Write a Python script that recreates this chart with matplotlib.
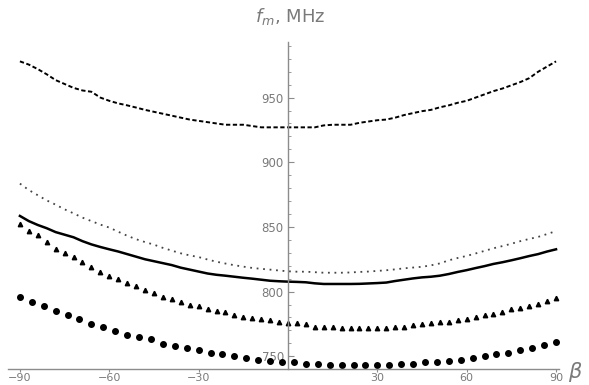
import numpy as np
import matplotlib.pyplot as plt
from matplotlib.ticker import MultipleLocator

# beam angle, degrees (common grid for all curves)
beta = np.arange(-90, 91, 3)
# coarser grid for the circle markers
beta_c = np.arange(-90, 91, 4)

f_dashed = [978, 975.5, 972, 968, 963.5, 960.5, 957.5, 955.5, 954.5, 950,
            947.5, 945.5, 944, 942.3, 940.5, 939, 937.5, 936, 934.5, 933,
            932, 931, 930, 929, 929, 929, 928, 927, 927, 927,
            927, 927, 927, 927, 928.5, 929, 929, 929, 930.5, 931.5,
            932.5, 933, 934.5, 936.5, 938, 939.5, 940.5, 942.5, 944, 946,
            947.5, 950, 952.5, 955, 957, 959.5, 962, 965, 970, 974, 978]

f_dotted = [883.5, 878.5, 874.5, 870.5, 867.2, 863.6, 860.5, 857.2, 854.5, 851.8,
            849.5, 846.3, 843.2, 840.5, 838.3, 836.3, 833.8, 831.7, 829.6, 828,
            826.7, 824.8, 823.1, 821.7, 820.4, 819.3, 818.3, 817.6, 817, 816.3,
            815.7, 815.4, 815.4, 815, 814.6, 814.6, 814.6, 814.8, 815.2, 815.5,
            816, 816.5, 817.2, 818, 818.6, 819.2, 820.3, 821.8, 824.2, 826,
            827.6, 829.5, 831.5, 833.5, 835.2, 837, 839, 840.7, 842.3, 844.5, 846.8]

f_solid = [858.5, 854.5, 851.5, 849, 846, 844, 842, 839, 836.5, 834.5,
           832.7, 831, 829, 827, 825, 823.5, 822, 820.5, 818.5, 817,
           815.5, 814, 813, 812.3, 811.5, 810.7, 810, 809.2, 808.4, 808,
           807.7, 807.5, 807.2, 806.4, 805.9, 805.9, 805.9, 805.9, 806, 806.3,
           806.6, 807, 808.2, 809.2, 810.2, 811, 811.5, 812.3, 813.6, 815.2,
           816.6, 818.2, 819.7, 821.4, 822.7, 824.2, 825.8, 827.5, 829, 831, 832.7]

f_tri = [852, 846.8, 843.5, 838.3, 833.2, 829.6, 826.5, 822.9, 819.2, 815.4,
         812.3, 809.5, 806.4, 804.1, 801.2, 798.9, 795.6, 794.3, 792.2, 789.6,
         788.9, 786.8, 784.8, 784, 781.7, 780.6, 779.8, 778.8, 777.8, 776.7,
         775.5, 775.5, 774.7, 772.9, 772.9, 772.9, 772.1, 772.1, 772.1, 772.1,
         772.1, 772.1, 772.9, 772.9, 774.4, 774.7, 775.5, 776.7, 776.7, 778,
         778.8, 780.1, 781.7, 782.9, 784, 786.3, 787.6, 788.9, 790.4, 793, 795.3]

f_circ = [796, 792.2, 789.1, 784.8, 781.7, 778.8, 775, 772.4, 769.8, 766.7,
          764.7, 763.1, 759.5, 758, 756.2, 754.6, 752.3, 751.5, 750.2, 748.7,
          747.1, 746.6, 745.6, 745.6, 744.3, 744.3, 743.5, 743.5, 743.5, 743.5,
          743.5, 743.5, 744.3, 744.3, 745.6, 745.6, 746.6, 747.1, 749, 750.5,
          751.8, 752.6, 754.6, 756.4, 758.5, 760.8]

fig = plt.figure(figsize=(5.89, 3.85), dpi=100)
ax = fig.add_axes([0.0136, 0.041, 0.9355, 0.85])

ax.plot(beta, f_dashed, color='black', lw=1.4, ls=(0, (2.2, 1.3)))
ax.plot(beta, f_dotted, color='#444444', lw=1.3, ls=(0, (1, 2.6)))
ax.plot(beta, f_solid, color='black', lw=1.8)
ax.plot(beta, f_tri, ls='none', marker='^', ms=3.2, color='black')
ax.plot(beta_c, f_circ, ls='none', marker='o', ms=4.0, color='black')

ax.set_xlim(-94, 91)
ax.set_ylim(740, 993)

# axes cross at the origin of the plotted range
gray = '#8c8c8c'
ax.spines['left'].set_position(('data', 0))
ax.spines['bottom'].set_position(('data', 740))
ax.spines['right'].set_visible(False)
ax.spines['top'].set_visible(False)
for s in ('left', 'bottom'):
    ax.spines[s].set_color(gray)
    ax.spines[s].set_linewidth(1.0)

ax.yaxis.set_minor_locator(MultipleLocator(10))
ax.set_xticks([-90, -60, -30, 30, 60, 90])
ax.set_yticks([750, 800, 850, 900, 950])
ax.set_xticklabels(['\u221290', '\u221260', '\u221230', '30', '60', '90'])
ax.tick_params(axis='both', which='major', direction='in', length=4,
               width=0.8, color=gray, labelcolor='#7a7a7a', labelsize=8.5, pad=3)
ax.tick_params(axis='y', which='minor', direction='in', length=2.2,
               width=0.6, color=gray)
ax.tick_params(axis='x', which='major', direction='out', length=2,
               labelsize=8, pad=0.5)

fig.text(0.976, 0.035, r'$\beta$', color='#7a7a7a', fontsize=15,
         ha='center', va='center')
fig.text(0.493, 0.958, r'$f_m$, MHz', color='#7a7a7a', fontsize=13,
         ha='center', va='center')

fig.savefig('out.png', dpi=100)
